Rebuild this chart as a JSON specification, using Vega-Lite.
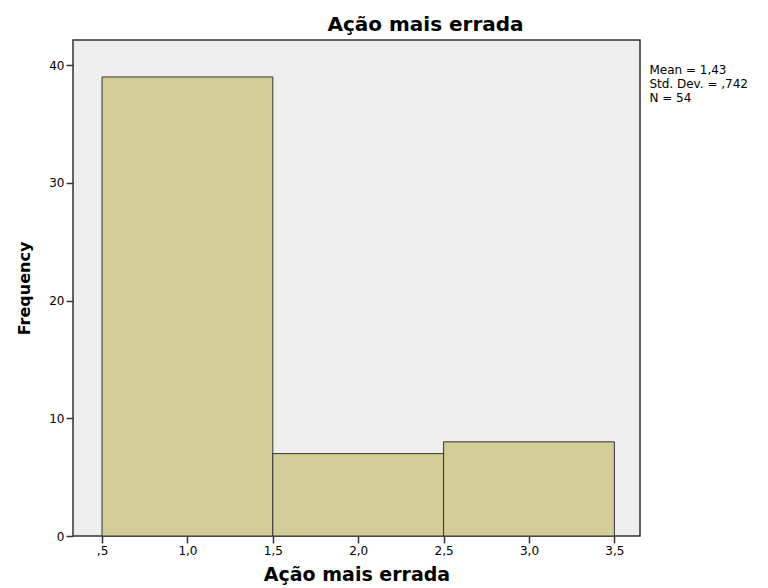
{
  "$schema": "https://vega.github.io/schema/vega-lite/v6.json",
  "width": 567,
  "height": 496,
  "autosize": {"type": "none"},
  "padding": {"left": 73, "top": 40, "right": 128, "bottom": 52},
  "background": "white",
  "title": {
    "text": "Ação mais errada",
    "font": "DejaVu Sans",
    "fontSize": 20,
    "fontWeight": "bold",
    "color": "#000000",
    "anchor": "middle",
    "frame": "group",
    "dx": 69,
    "offset": 5
  },
  "config": {
    "view": {"fill": "#eeeeee", "stroke": "#333333", "strokeWidth": 1.5},
    "axis": {
      "labelFont": "DejaVu Sans",
      "labelFontSize": 12,
      "labelColor": "#000000",
      "titleFont": "DejaVu Sans",
      "titleFontWeight": "bold",
      "titleColor": "#000000",
      "tickColor": "#333333",
      "tickSize": 7,
      "tickWidth": 1.5,
      "grid": false,
      "domain": false
    }
  },
  "data": {
    "values": [
      {"bin_start": 0.5, "bin_end": 1.5, "count": 39},
      {"bin_start": 1.5, "bin_end": 2.5, "count": 7},
      {"bin_start": 2.5, "bin_end": 3.5, "count": 8}
    ]
  },
  "layer": [
    {
      "mark": {"type": "rect", "fill": "#d3ce97", "stroke": "#333333", "strokeWidth": 1},
      "encoding": {
        "x": {
          "field": "bin_start",
          "type": "quantitative",
          "scale": {"domain": [0.33, 3.65], "nice": false, "zero": false},
          "axis": {
            "title": "Ação mais errada",
            "titleFontSize": 19,
            "titlePadding": 9,
            "values": [0.5, 1, 1.5, 2, 2.5, 3, 3.5],
            "labelExpr": "datum.value < 1 ? ',5' : replace(format(datum.value, '.1f'), '.', ',')",
            "labelPadding": 2
          }
        },
        "x2": {"field": "bin_end"},
        "y": {
          "field": "count",
          "type": "quantitative",
          "scale": {"domain": [0, 42.14], "nice": false},
          "axis": {
            "title": "Frequency",
            "titleFontSize": 16,
            "titlePadding": 16,
            "values": [0, 10, 20, 30, 40],
            "labelPadding": 2
          }
        },
        "y2": {"datum": 0}
      }
    },
    {
      "data": {"values": [{"summary": "histogram statistics"}]},
      "mark": {
        "type": "text",
        "align": "left",
        "baseline": "top",
        "font": "DejaVu Sans",
        "fontSize": 12,
        "lineHeight": 14,
        "color": "#000000"
      },
      "encoding": {
        "x": {"datum": 3.705},
        "y": {"datum": 40},
        "text": {"value": ["Mean = 1,43", "Std. Dev. = ,742", "N = 54"]}
      }
    }
  ]
}
